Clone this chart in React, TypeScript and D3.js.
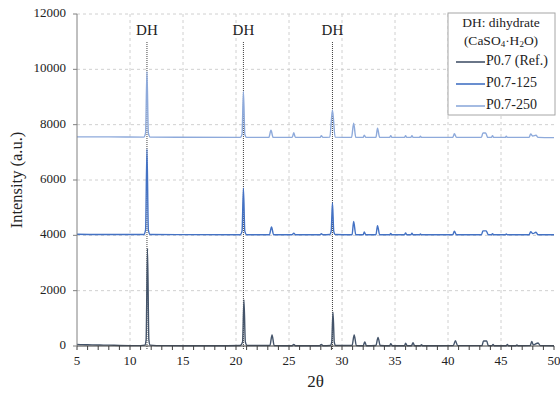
import React from "react";
import * as d3 from "d3";

// 2θ / intensity pairs for each XRD pattern (offset stacked)
const refPattern: [number, number][] = [
  [5, 60], [5.5, 50], [6, 45], [7, 35], [8, 30], [9, 20], [10, 15], [11, 15],
  [11.4, 30], [11.52, 220], [11.65, 3530], [11.78, 220], [11.9, 30], [12.5, 15],
  [15, 10], [18, 10], [20.4, 20], [20.62, 150], [20.75, 1660], [20.88, 150], [21.05, 20],
  [23.2, 20], [23.4, 400], [23.6, 20], [25.3, 10], [25.45, 60], [25.6, 10],
  [27.9, 10], [28.05, 60], [28.2, 10], [28.9, 20], [29.03, 140], [29.15, 1220], [29.27, 140], [29.4, 20],
  [30.95, 20], [31.15, 400], [31.35, 20], [32.0, 10], [32.15, 150], [32.3, 10],
  [33.2, 20], [33.4, 310], [33.6, 20], [34.5, 10], [34.6, 80], [34.75, 10],
  [35.9, 10], [36.0, 100], [36.15, 10], [36.55, 10], [36.7, 120], [36.85, 10],
  [37.4, 10], [37.5, 50], [37.6, 10], [40.5, 15], [40.7, 190], [40.9, 15],
  [43.2, 15], [43.35, 180], [43.65, 180], [43.8, 15], [44.15, 10], [44.25, 60], [44.35, 10],
  [45.5, 10], [45.6, 60], [45.7, 10], [46.4, 10], [46.5, 40], [46.6, 10],
  [47.75, 15], [47.9, 160], [48.05, 40], [48.5, 110], [48.7, 15], [50, 10],
];

const p125Pattern: [number, number][] = [
  [5, 4040], [7, 4030], [11.3, 4030], [11.47, 4200], [11.6, 7120], [11.73, 4200], [11.9, 4030],
  [20.4, 4020], [20.57, 4150], [20.7, 5700], [20.83, 4150], [21.0, 4020],
  [23.15, 4020], [23.35, 4300], [23.55, 4020], [25.3, 4020], [25.45, 4080], [25.6, 4020],
  [27.95, 4020], [28.05, 4060], [28.2, 4020], [28.85, 4030], [28.98, 4150], [29.1, 5180], [29.22, 4150], [29.35, 4030],
  [30.95, 4020], [31.1, 4500], [31.3, 4020], [32.0, 4020], [32.1, 4120], [32.25, 4020],
  [33.2, 4020], [33.35, 4350], [33.55, 4020], [34.5, 4020], [34.6, 4070], [34.7, 4020],
  [35.9, 4020], [36.0, 4090], [36.1, 4020], [36.5, 4020], [36.6, 4080], [36.7, 4020],
  [37.3, 4020], [37.4, 4050], [37.5, 4020], [40.45, 4020], [40.6, 4150], [40.8, 4020],
  [43.15, 4020], [43.3, 4160], [43.6, 4160], [43.8, 4020], [44.1, 4020], [44.2, 4060], [44.3, 4020],
  [45.4, 4020], [45.5, 4050], [45.6, 4020], [47.65, 4020], [47.8, 4130], [48.0, 4060],
  [48.3, 4110], [48.5, 4020], [50, 4020],
];

const p250Pattern: [number, number][] = [
  [5, 7560], [8, 7560], [11.3, 7550], [11.47, 7700], [11.6, 9920], [11.73, 7700], [11.9, 7550],
  [20.4, 7540], [20.57, 7660], [20.7, 9200], [20.83, 7660], [21.0, 7540],
  [23.1, 7540], [23.3, 7800], [23.5, 7540], [25.3, 7540], [25.45, 7710], [25.6, 7540],
  [27.95, 7540], [28.05, 7600], [28.2, 7540], [28.85, 7550], [29.1, 8530], [29.35, 7550],
  [30.9, 7540], [31.1, 8050], [31.3, 7540], [32.0, 7540], [32.1, 7620], [32.25, 7540],
  [33.2, 7540], [33.35, 7870], [33.55, 7540], [34.5, 7540], [34.6, 7600], [34.7, 7540],
  [35.9, 7540], [36.0, 7600], [36.1, 7540], [36.5, 7540], [36.6, 7600], [36.7, 7540],
  [37.3, 7540], [37.4, 7580], [37.5, 7540], [40.45, 7540], [40.6, 7670], [40.8, 7540],
  [43.15, 7540], [43.3, 7700], [43.55, 7700], [43.75, 7540], [44.1, 7540], [44.2, 7600], [44.3, 7540],
  [45.4, 7540], [45.5, 7580], [45.6, 7540], [47.65, 7540], [47.8, 7660], [48.0, 7590],
  [48.3, 7620], [48.5, 7540], [50, 7530],
];

const seriesNames = ["P0.7 (Ref.)", "P0.7-125", "P0.7-250"];
const seriesColors = ["#44546a", "#4472c4", "#8eaadb"];
const seriesData = [refPattern, p125Pattern, p250Pattern];

const xTicks = [5, 10, 15, 20, 25, 30, 35, 40, 45, 50];
const yTicks = [0, 2000, 4000, 6000, 8000, 10000, 12000];
const dhPositions = [11.6, 20.7, 29.1];

const W = 560;
const H = 394;
const margin = { left: 77, right: 6, top: 14, bottom: 48 };
const FONT = "'Liberation Serif', serif";

export default function App() {
  const x = d3.scaleLinear().domain([5, 50]).range([margin.left, W - margin.right]);
  const y = d3.scaleLinear().domain([0, 12000]).range([H - margin.bottom, margin.top]);
  const line = d3
    .line<[number, number]>()
    .x((d) => x(d[0]))
    .y((d) => y(d[1]))
    .curve(d3.curveMonotoneX);

  const minorTicks = d3.range(5, 51, 1);
  const x0 = x(5);
  const y0 = y(0);

  const legendX = 448;
  const legendY = 13;
  const legendRows = [62, 84, 106];

  return (
    <div style={{ position: "absolute", left: 0, top: 0 }}>
      <svg width={W} height={H} style={{ display: "block", background: "#fff" }}>
        {/* grid */}
        {yTicks.slice(1).map((t) => (
          <line key={"gy" + t} x1={x0} x2={x(50)} y1={y(t)} y2={y(t)}
            stroke="#d0d0d0" strokeWidth={1} strokeDasharray="3,3" />
        ))}
        {xTicks.slice(1, -1).map((t) => (
          <line key={"gx" + t} x1={x(t)} x2={x(t)} y1={y(12000)} y2={y0}
            stroke="#d0d0d0" strokeWidth={1} strokeDasharray="3,3" />
        ))}

        {/* DH reference lines */}
        {dhPositions.map((p) => (
          <g key={"dh" + p}>
            <line x1={x(p)} x2={x(p)} y1={42} y2={y0 + 3}
              stroke="#404040" strokeWidth={1} strokeDasharray="1,1" />
            <text x={x(p)} y={32} textAnchor="middle" dominantBaseline="middle"
              fontFamily={FONT} fontSize={15} fill="#222">DH</text>
          </g>
        ))}

        {/* patterns */}
        {seriesData.map((d, i) => (
          <path key={"s" + i} d={line(d) || ""} fill="none"
            stroke={seriesColors[i]} strokeWidth={1.4} strokeLinejoin="round" />
        ))}

        {/* axes */}
        <line x1={x0} x2={x0} y1={y(12000)} y2={y0} stroke="#808080" strokeWidth={1} />
        <line x1={x0} x2={x(50)} y1={y0} y2={y0} stroke="#404040" strokeWidth={1.2} />
        {minorTicks.map((t) => (
          <line key={"mt" + t} x1={x(t)} x2={x(t)} y1={y0} y2={y0 + 4}
            stroke="#404040" strokeWidth={1} />
        ))}
        {yTicks.map((t) => (
          <line key={"yt" + t} x1={x0 - 4} x2={x0} y1={y(t)} y2={y(t)}
            stroke="#808080" strokeWidth={1} />
        ))}
        {yTicks.map((t) => (
          <text key={"yl" + t} x={66} y={y(t)} textAnchor="end" dominantBaseline="middle"
            fontFamily={FONT} fontSize={13} fill="#222">{t}</text>
        ))}
        {xTicks.map((t) => (
          <text key={"xl" + t} x={x(t)} y={362} textAnchor="middle" dominantBaseline="middle"
            fontFamily={FONT} fontSize={13} fill="#222">{t}</text>
        ))}

        {/* axis titles */}
        <text x={(x0 + x(50)) / 2} y={383} textAnchor="middle" dominantBaseline="middle"
          fontFamily={FONT} fontSize={17} fill="#222">2θ</text>
        <text transform={`translate(18, ${(y(12000) + y0) / 2}) rotate(-90)`} textAnchor="middle"
          dominantBaseline="middle" fontFamily={FONT} fontSize={16.5} fill="#222">Intensity (a.u.)</text>

        {/* legend */}
        <rect x={legendX} y={legendY} width={107} height={102} fill="#fff" stroke="#a6a6a6" strokeWidth={1} />
        <text x={501} y={24} textAnchor="middle" dominantBaseline="middle"
          fontFamily={FONT} fontSize={13.5} fill="#222">DH: dihydrate</text>
        <text x={501} y={42} textAnchor="middle" dominantBaseline="middle"
          fontFamily={FONT} fontSize={13.5} fill="#222">
          (CaSO<tspan fontSize={9} dy={3}>4</tspan>
          <tspan dy={-3}>·H</tspan>
          <tspan fontSize={9} dy={3}>2</tspan>
          <tspan dy={-3}>O)</tspan>
        </text>
        {seriesNames.map((n, i) => (
          <g key={"lg" + i}>
            <line x1={456} x2={485} y1={legendRows[i]} y2={legendRows[i]}
              stroke={seriesColors[i]} strokeWidth={1.6} />
            <text x={486} y={legendRows[i]} dominantBaseline="middle"
              fontFamily={FONT} fontSize={14} fill="#222">{n}</text>
          </g>
        ))}
      </svg>
    </div>
  );
}
